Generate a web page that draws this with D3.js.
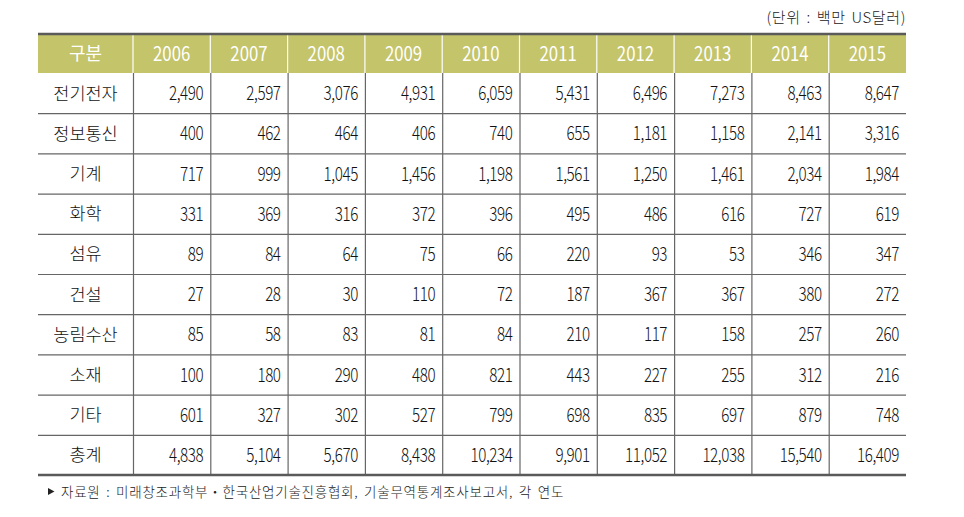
<!DOCTYPE html>
<html><head><meta charset="utf-8">
<script src="https://cdn.jsdelivr.net/npm/d3@7/dist/d3.min.js"></script>
<style>body{margin:0;background:#fff}</style></head>
<body><svg id="c" width="964" height="517"></svg>
<script>
const years = ["2006","2007","2008","2009","2010","2011","2012","2013","2014","2015"];
const categories = ["전기전자","정보통신","기계","화학","섬유","건설","농림수산","소재","기타","총계"];
const v_elec = [2490,2597,3076,4931,6059,5431,6496,7273,8463,8647];
const v_info = [400,462,464,406,740,655,1181,1158,2141,3316];
const v_mach = [717,999,1045,1456,1198,1561,1250,1461,2034,1984];
const v_chem = [331,369,316,372,396,495,486,616,727,619];
const v_fiber = [89,84,64,75,66,220,93,53,346,347];
const v_const = [27,28,30,110,72,187,367,367,380,272];
const v_agri = [85,58,83,81,84,210,117,158,257,260];
const v_mat = [100,180,290,480,821,443,227,255,312,216];
const v_etc = [601,327,302,527,799,698,835,697,879,748];
const v_total = [4838,5104,5670,8438,10234,9901,11052,12038,15540,16409];
const values = [v_elec,v_info,v_mach,v_chem,v_fiber,v_const,v_agri,v_mat,v_etc,v_total];
const headerLabel = "구분";
const unitText = "(단위 : 백만 US달러)";
const sourceText = "자료원 : 미래창조과학부‧한국산업기술진흥협회, 기술무역통계조사보고서, 각 연도";

const svg = d3.select("#c");
const font = "'Noto Sans CJK KR','Noto Sans',sans-serif";
const L = 38, R = 906, firstW = 95;
const T = 34, headH = 39, B = 475;
const x = d3.scaleBand().domain(years).range([L+firstW, R]);
const y = d3.scaleBand().domain(categories).range([T+headH, B]);
const fmt = d3.format(",");

svg.append("rect").attr("x",L).attr("y",T).attr("width",R-L).attr("height",headH).attr("fill","#c4c46b");
svg.selectAll(".hv").data(years).enter().append("line")
  .attr("x1",d=>x(d)).attr("x2",d=>x(d)).attr("y1",T).attr("y2",T+headH)
  .attr("stroke","#fff").attr("stroke-width",1.2);
svg.selectAll(".bv").data(years).enter().append("line")
  .attr("x1",d=>x(d)+0.5).attr("x2",d=>x(d)+0.5).attr("y1",T+headH).attr("y2",B)
  .attr("stroke","#666").attr("stroke-width",1.2);
svg.selectAll(".bh").data(categories.slice(1)).enter().append("line")
  .attr("x1",L).attr("x2",R).attr("y1",d=>y(d)+0.5).attr("y2",d=>y(d)+0.5)
  .attr("stroke","#666").attr("stroke-width",1.2);
[T, B].forEach(yy=>svg.append("line").attr("x1",L).attr("x2",R).attr("y1",yy).attr("y2",yy)
  .attr("stroke","#5a5a5a").attr("stroke-width",2.6));

const hy = T + headH/2 + 7;
svg.append("text").attr("x",L+firstW/2).attr("y",hy-0.5).attr("text-anchor","middle")
  .attr("font-family",font).attr("font-size",18).attr("font-weight",400).attr("fill","#fff").text(headerLabel);
svg.selectAll(".ht").data(years).enter().append("text")
  .attr("transform",d=>`translate(${x(d)+x.bandwidth()/2},${hy}) scale(0.84,1)`)
  .attr("text-anchor","middle")
  .attr("font-family",font).attr("font-size",20).attr("font-weight",400).attr("fill","#fff")
  .text(d=>d);

svg.selectAll(".cl").data(categories).enter().append("text")
  .attr("x",L+firstW/2).attr("y",d=>y(d)+y.bandwidth()/2+6.5).attr("text-anchor","middle")
  .attr("font-family",font).attr("font-size",17.5).attr("font-weight",300).attr("fill","#111").text(d=>d);

categories.forEach((c,i)=>{
  svg.selectAll(null).data(values[i]).enter().append("text")
    .attr("transform",(d,j)=>`translate(${x(years[j])+x.bandwidth()-7},${y(c)+y.bandwidth()/2+7}) scale(0.8,1)`)
    .attr("text-anchor","end").attr("font-family",font).attr("font-size",19).attr("font-weight",300).attr("fill","#111")
    .attr("letter-spacing",-0.5).text(d=>fmt(d));
});

svg.append("text").attr("x",R).attr("y",23).attr("text-anchor","end")
  .attr("font-family",font).attr("font-size",15).attr("font-weight",300).attr("fill","#222")
  .attr("letter-spacing",0.6).attr("word-spacing",2).text(unitText);
svg.append("path").attr("d","M48,488 L54.5,491.5 L48,495 Z").attr("fill","#222");
svg.append("text").attr("x",61).attr("y",497)
  .attr("font-family",font).attr("font-size",13.5).attr("font-weight",300).attr("fill","#222")
  .attr("letter-spacing",0.75).attr("word-spacing",2).text(sourceText);
</script></body></html>
